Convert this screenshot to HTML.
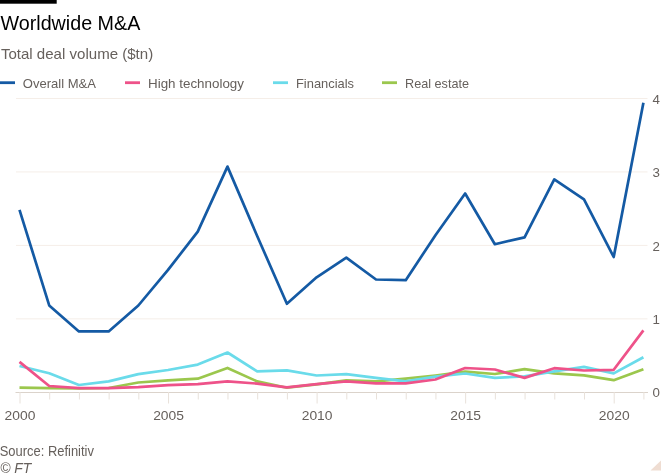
<!DOCTYPE html>
<html lang="en"><head><meta charset="utf-8"><title>Worldwide M&amp;A</title>
<style>
html,body{margin:0;padding:0;background:#fff;}
body{width:665px;height:475px;overflow:hidden;}
svg{display:block;font-family:"Liberation Sans",sans-serif;}
.t{font-size:19.5px;fill:#000;}
.s{font-size:14.5px;fill:#66605c;}
.l{font-size:13.5px;fill:#66605c;}
.ax text{font-size:13.3px;fill:#66605c;}
.src{font-size:14.5px;fill:#66605c;}
.grid line{stroke:#f5eee8;stroke-width:1;}
.ticks line{stroke:#e8e1da;stroke-width:1;}
.series path{fill:none;stroke-width:2.7;stroke-linejoin:round;stroke-linecap:butt;}
</style></head><body>
<svg width="665" height="475" viewBox="0 0 665 475">
<rect x="0" y="0" width="665" height="475" fill="#fff"/>
<rect x="0" y="0" width="56.7" height="3.7" fill="#000"/>
<text class="t" x="0.5" y="29.5" textLength="139.8" lengthAdjust="spacingAndGlyphs">Worldwide M&amp;A</text>
<text class="s" x="0.9" y="58.5" textLength="152.3" lengthAdjust="spacingAndGlyphs">Total deal volume ($tn)</text>
<g class="legend">
<rect x="0" y="81.3" width="15" height="2.8" fill="#145aa4"/>
<text class="l" x="22.8" y="88.2" textLength="73.2" lengthAdjust="spacingAndGlyphs">Overall M&amp;A</text>
<rect x="125" y="81.3" width="15" height="2.8" fill="#ee5289"/>
<text class="l" x="148" y="88.2" textLength="96" lengthAdjust="spacingAndGlyphs">High technology</text>
<rect x="273" y="81.3" width="15" height="2.8" fill="#6adbea"/>
<text class="l" x="296" y="88.2" textLength="58" lengthAdjust="spacingAndGlyphs">Financials</text>
<rect x="382" y="81.3" width="15" height="2.8" fill="#9bc74d"/>
<text class="l" x="405" y="88.2" textLength="64" lengthAdjust="spacingAndGlyphs">Real estate</text>
</g>
<g class="grid"><line x1="16" x2="647.5" y1="318.85" y2="318.85"/><line x1="16" x2="647.5" y1="245.4" y2="245.4"/><line x1="16" x2="647.5" y1="171.95" y2="171.95"/><line x1="16" x2="647.5" y1="98.5" y2="98.5"/></g>
<line x1="15.5" x2="648" y1="392.5" y2="392.5" stroke="#dbd3cb" stroke-width="1"/>
<g class="ticks"><line x1="20.0" x2="20.0" y1="392" y2="403.5"/><line x1="49.71" x2="49.71" y1="392" y2="399.5"/><line x1="79.42" x2="79.42" y1="392" y2="399.5"/><line x1="109.13" x2="109.13" y1="392" y2="399.5"/><line x1="138.84" x2="138.84" y1="392" y2="399.5"/><line x1="168.55" x2="168.55" y1="392" y2="403.5"/><line x1="198.26" x2="198.26" y1="392" y2="399.5"/><line x1="227.97" x2="227.97" y1="392" y2="399.5"/><line x1="257.68" x2="257.68" y1="392" y2="399.5"/><line x1="287.39" x2="287.39" y1="392" y2="399.5"/><line x1="317.1" x2="317.1" y1="392" y2="403.5"/><line x1="346.81" x2="346.81" y1="392" y2="399.5"/><line x1="376.52" x2="376.52" y1="392" y2="399.5"/><line x1="406.23" x2="406.23" y1="392" y2="399.5"/><line x1="435.94" x2="435.94" y1="392" y2="399.5"/><line x1="465.65" x2="465.65" y1="392" y2="403.5"/><line x1="495.36" x2="495.36" y1="392" y2="399.5"/><line x1="525.07" x2="525.07" y1="392" y2="399.5"/><line x1="554.78" x2="554.78" y1="392" y2="399.5"/><line x1="584.49" x2="584.49" y1="392" y2="399.5"/><line x1="614.2" x2="614.2" y1="392" y2="403.5"/><line x1="643.91" x2="643.91" y1="392" y2="399.5"/></g>
<g class="ax"><text x="652.6" y="397.4">0</text><text x="652.6" y="323.95">1</text><text x="652.6" y="250.5">2</text><text x="652.6" y="177.05">3</text><text x="652.6" y="103.60000000000001">4</text><text x="4.6" y="420" textLength="30.8" lengthAdjust="spacingAndGlyphs">2000</text><text x="153.15" y="420" textLength="30.8" lengthAdjust="spacingAndGlyphs">2005</text><text x="301.70000000000005" y="420" textLength="30.8" lengthAdjust="spacingAndGlyphs">2010</text><text x="450.25" y="420" textLength="30.8" lengthAdjust="spacingAndGlyphs">2015</text><text x="598.8000000000001" y="420" textLength="30.8" lengthAdjust="spacingAndGlyphs">2020</text></g>
<g class="series">
<path d="M19.5,387.7 L49.21,388.2 L78.92,388.5 L108.63,388 L138.34,382.5 L168.05,380.3 L197.76,378.7 L227.47,367.9 L257.18,381.4 L286.89,387.7 L316.6,384.3 L346.31,380.4 L376.02,381.4 L405.73,378.7 L435.44,375.5 L465.15,371.7 L494.86,374 L524.57,369.2 L554.28,373.4 L583.99,375.3 L613.7,380.2 L643.41,369.2" stroke="#9bc74d"/>
<path d="M19.5,366 L49.21,373.3 L78.92,385 L108.63,381.4 L138.34,374.1 L168.05,370 L197.76,364.6 L227.47,352.5 L257.18,371.4 L286.89,370.3 L316.6,375.5 L346.31,374.1 L376.02,377.9 L405.73,381.4 L435.44,376.6 L465.15,373.5 L494.86,377.9 L524.57,376.3 L554.28,371.4 L583.99,366.9 L613.7,373.4 L643.41,357.2" stroke="#6adbea"/>
<path d="M19.5,361.9 L49.21,386 L78.92,388.2 L108.63,388.2 L138.34,387.1 L168.05,385.1 L197.76,384.1 L227.47,381.4 L257.18,383.6 L286.89,387.4 L316.6,384.1 L346.31,381.4 L376.02,383.3 L405.73,383.3 L435.44,379.5 L465.15,368 L494.86,369.5 L524.57,377.9 L554.28,368.2 L583.99,370.5 L613.7,369.8 L643.41,330.4" stroke="#ee5289"/>
<path d="M19.5,209.9 L49.21,305.4 L78.92,331.4 L108.63,331.4 L138.34,305.5 L168.05,269.9 L197.76,231.6 L227.47,166.6 L257.18,236 L286.89,303.8 L316.6,277.3 L346.31,257.7 L376.02,279.5 L405.73,280.2 L435.44,235.2 L465.15,193.5 L494.86,244.2 L524.57,237.4 L554.28,179.4 L583.99,199.4 L613.7,257 L643.41,102.8" stroke="#145aa4"/>
</g>
<text class="src" x="-0.3" y="455.7" textLength="94.2" lengthAdjust="spacingAndGlyphs">Source: Refinitiv</text>
<text class="src" x="0.3" y="473" font-style="italic" textLength="31" lengthAdjust="spacingAndGlyphs">© FT</text>
<path d="M661,460.5 L661,470.5 L650.5,470.5 Z" fill="#efddd2"/>
</svg>
</body></html>
